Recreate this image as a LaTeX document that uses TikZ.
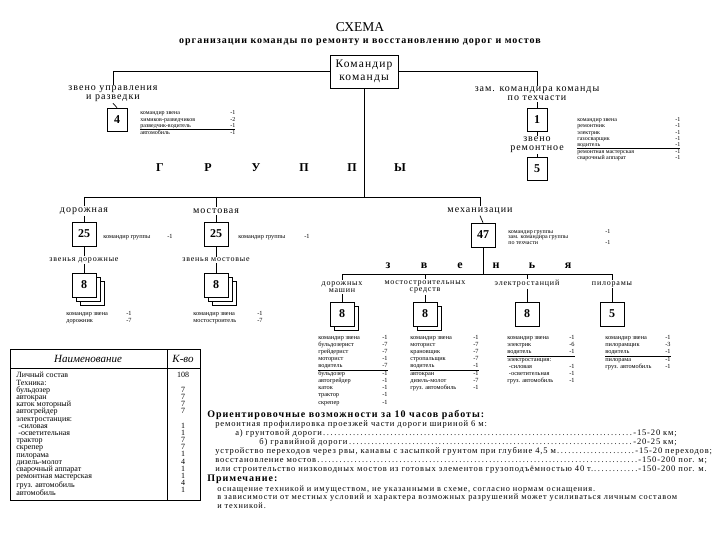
\documentclass[tikz,border=0pt]{standalone}
\usepackage{fontspec}
\setmainfont{Liberation Serif}
\newfontfamily\airy{Liberation Serif}[LetterSpace=10]
\usetikzlibrary{positioning}
\setlength{\arrayrulewidth}{0.8pt}

\tikzset{
  numbox/.style={draw, line width=0.7pt, minimum width=24pt, minimum height=24pt,
    inner sep=0pt, font=\fontsize{12}{12}\selectfont\bfseries},
  smallbox/.style={numbox, minimum width=20pt, minimum height=23pt},
  branchlbl/.style={align=center, inner sep=1pt, font=\airy\fontsize{10}{9}\selectfont},
  linklbl/.style={align=center, inner sep=1pt, font=\airy\fontsize{8}{7.5}\selectfont},
  roster/.style={anchor=north west, inner sep=0pt, font=\fontsize{6.3}{7.1}\selectfont},
  bigletter/.style={font=\fontsize{12}{12}\selectfont\bfseries},
}

\begin{document}
\begin{tikzpicture}[x=1pt, y=-1pt, line width=0.7pt]
   \useasboundingbox (0,0) rectangle (720,540);

   % heading
   \node (title) at (360,27) {\fontsize{13.5}{13}\selectfont СХЕМА};
   \node (subtitle) at (360,42) {\airy\fontsize{10}{11}\selectfont\bfseries организации команды по ремонту и восстановлению дорог и мостов};
   \node [draw, minimum width=68pt, minimum height=33pt, align=center,
          font=\airy\fontsize{11.5}{13}\selectfont] (cmd) at (364,71.5) {Командир\\команды};

   % control and repair links
   \node [branchlbl] (mgmt) at (113,94) {звено управления\\и разведки};
   \node [branchlbl] (tech) at (537,94) {зам. командира команды\\по техчасти};
   \draw (cmd.west) -| (mgmt.north);
   \draw (cmd.east) -| (tech.north);

   \node [smallbox] (n4) at (117,119.5) {4};
   \draw (mgmt.south) -- (n4.north);
   \node [roster, font=\fontsize{6}{6.3}\selectfont] (r4) at (140,110) {\begin{tabular}{@{}p{90pt}@{}l@{}}
      командир звена & -1\\ химиков-разведчиков & -2\\ разведчик-водитель & -1\\ \hline автомобиль & -1\end{tabular}};

   \node [smallbox] (n1) at (537,119.5) {1};
   \node [branchlbl] (repair) at (537,145) {звено\\ремонтное};
   \node [smallbox] (n5) at (537,168.5) {5};
   \draw (tech.south) -- (n1.north);
   \draw (n1.south) -- (repair.north);
   \draw (repair.south) -- (n5.north);
   \node [roster, font=\fontsize{6}{6.2}\selectfont] (r1) at (577,117) {\begin{tabular}{@{}p{98pt}@{}l@{}}
      командир звена & -1\\ ремонтник & -1\\ электрик & -1\\ газосварщик & -1\\ водитель & -1\\ \hline
      ремонтная мастерская & -1\\ сварочный аппарат & -1\end{tabular}};

   % groups
   \foreach \ch [count=\i] in {Г,Р,У,П,П,Ы}
      \node [bigletter] (grp\i) at (112+48*\i,168) {\ch};
   \coordinate (barL) at (84,197);
   \coordinate (barR) at (480,197);
   \draw (cmd.south) -- (cmd.south |- barL);
   \draw (barL) -- (barR);
   \node [branchlbl] (road) at (84,211) {дорожная};
   \node [branchlbl] (bridge) at (216,211) {мостовая};
   \node [branchlbl] (mech) at (480,211) {механизации};
   \draw (barL) -- (road.north);
   \draw (bridge.north |- barL) -- (bridge.north);
   \draw (barR) -- (mech.north);

   % road group
   \node [numbox] (road25) at (84,234) {25};
   \node [roster, anchor=west] (roadcmd) at (103,237) {\makebox[64pt][l]{командир группы}-1};
   \node [linklbl] (roadlinks) at (84,260) {звенья дорожные};
   \foreach \d in {8,4}
      \node [numbox, fill=white] at (84+\d,285+\d) {};
   \node [numbox, fill=white] (road8) at (84,285) {8};
   \draw (road.south) -- (road25.north);
   \draw (road25.south) -- (roadlinks.north);
   \draw (roadlinks.south) -- (road8.north);
   \node [roster] (rroad) at (66,310) {\begin{tabular}{@{}p{60pt}@{}l@{}}
      командир звена & -1\\ дорожник & -7\end{tabular}};

   % bridge group
   \node [numbox] (bridge25) at (216,234) {25};
   \node [roster, anchor=west] (bridgecmd) at (238,237) {\makebox[66pt][l]{командир группы}-1};
   \node [linklbl] (bridgelinks) at (216,260) {звенья мостовые};
   \foreach \d in {8,4}
      \node [numbox, fill=white] at (216+\d,285+\d) {};
   \node [numbox, fill=white] (bridge8) at (216,285) {8};
   \draw (bridge.south) -- (bridge25.north);
   \draw (bridge25.south) -- (bridgelinks.north);
   \draw (bridgelinks.south) -- (bridge8.north);
   \node [roster] (rbridge) at (193,310) {\begin{tabular}{@{}p{64pt}@{}l@{}}
      командир звена & -1\\ мостостроитель & -7\end{tabular}};

   % mechanisation group
   \node [numbox] (mech47) at (483,235) {47};
   \draw (mech.south) -- (mech47.north);
   \node [roster, font=\fontsize{6}{5.6}\selectfont] (r47) at (508,229) {\begin{tabular}{@{}p{97pt}@{}l@{}}
      командир группы & -1\\ зам. командира группы & \\ по техчасти & -1\end{tabular}};
   \foreach \ch [count=\i] in {з,в,е,н,ь,я}
      \node [bigletter] (lnk\i) at (352+36*\i,266) {\ch};
   \coordinate (linkbar) at (483,274);
   \coordinate (linkL) at (342,274);
   \coordinate (linkR) at (612,274);
   \draw (mech47.south) -- (linkbar);
   \draw (linkL) -- (linkR);

   \node [linklbl] (mach) at (342,287) {дорожных\\машин};
   \node [linklbl] (tools) at (425,287) {мостостроительных\\средств};
   \node [linklbl] (power) at (527,284) {электростанций};
   \node [linklbl] (saw) at (612,284) {пилорамы};
   \draw (linkL) -- (mach.north);
   \draw (tools.north |- linkL) -- (tools.north);
   \draw (power.north |- linkL) -- (power.north);
   \draw (linkR) -- (saw.north);

   \node [numbox, fill=white] at (346,318) {};
   \node [numbox, fill=white] (mach8) at (342,314) {8};
   \node [numbox, fill=white] at (429,318) {};
   \node [numbox, fill=white] (tools8) at (425,314) {8};
   \node [numbox] (power8) at (527,314) {8};
   \node [numbox] (saw5) at (612,314) {5};
   \draw (mach.south) -- (mach8.north);
   \draw (tools.south) -- (tools8.north);
   \draw (power.south) -- (power8.north);
   \draw (saw.south) -- (saw5.north);

   \node [roster] (rmach) at (318,334) {\begin{tabular}{@{}p{64pt}@{}l@{}}
      командир звена & -1\\ бульдозерист & -7\\ грейдерист & -7\\ моторист & -1\\ водитель & -7\\ \hline
      бульдозер & -1\\ автогрейдер & -1\\ каток & -1\\ трактор & -1\\ скрепер & -1\end{tabular}};
   \node [roster] (rtools) at (410,334) {\begin{tabular}{@{}p{63pt}@{}l@{}}
      командир звена & -1\\ моторист & -7\\ крановщик & -7\\ стропальщик & -7\\ водитель & -1\\ \hline
      автокран & -1\\ дизель-молот & -7\\ груз. автомобиль & -1\end{tabular}};
   \node [roster] (rpower) at (507,334) {\begin{tabular}{@{}p{62pt}@{}l@{}}
      командир звена & -1\\ электрик & -6\\ водитель & -1\\ \hline
      электростанция: & \\ \ -силовая & -1\\ \ -осветительная & -1\\ груз. автомобиль & -1\end{tabular}};
   \node [roster] (rsaw) at (605,334) {\begin{tabular}{@{}p{60pt}@{}l@{}}
      командир звена & -1\\ пилорамщик & -3\\ водитель & -1\\ \hline
      пилорама & -1\\ груз. автомобиль & -1\end{tabular}};

   % equipment table
   \draw (10,349) rectangle (200,500);
   \draw (10,368) -- (200,368);
   \draw (167,349) -- (167,500);
   \node [font=\itshape\fontsize{11}{11}\selectfont] (hname) at (88,359) {Наименование};
   \node [font=\itshape\fontsize{11}{11}\selectfont] (hqty) at (183,359) {К-во};
   \node [anchor=north west, align=left, inner sep=0pt, font=\fontsize{8}{7.2}\selectfont] (names) at (16,372) {Личный состав\\ Техника:\\ бульдозер\\ автокран\\ каток моторный\\ автогрейдер\\ электростанция:\\ \ -силовая\\ \ -осветительная\\ трактор\\ скрепер\\ пилорама\\ дизель-молот\\ сварочный аппарат\\ ремонтная мастерская\\ груз. автомобиль\\ автомобиль};
   \node [anchor=north, align=center, inner sep=0pt, font=\fontsize{8}{7.2}\selectfont] (qty) at (183,372) {108\\ \mbox{}\\ 7\\ 7\\ 7\\ 7\\ \mbox{}\\ 1\\ 1\\ 7\\ 7\\ 1\\ 4\\ 1\\ 1\\ 4\\ 1};

   % capabilities and note
   \node [anchor=north west, align=left, inner sep=0pt, font=\airy\fontsize{8.5}{9}\selectfont] (works) at (207,410) {%
      {\bfseries\fontsize{10}{9}\selectfont Ориентировочные возможности за 10 часов работы:}\\
      \hspace*{8pt}ремонтная профилировка проезжей части дороги шириной 6 м:\\
      \hspace*{28pt}\makebox[398pt][l]{а) грунтовой дороги\dotfill}-15-20 км;\\
      \hspace*{52pt}\makebox[374pt][l]{б) гравийной дороги\dotfill}-20-25 км;\\
      \hspace*{8pt}\makebox[420pt][l]{устройство переходов через рвы, канавы с засыпкой грунтом при глубине 4,5 м\dotfill}-15-20 переходов;\\
      \hspace*{8pt}\makebox[423pt][l]{восстановление мостов\dotfill}-150-200 пог. м;\\
      \hspace*{8pt}\makebox[423pt][l]{или строительство низководных мостов из готовых элементов грузоподъёмностью 40 т.\dotfill}-150-200 пог. м.};
   \node [anchor=north west, align=left, inner sep=0pt, font=\airy\fontsize{8.3}{7}\selectfont] (note) at (207,475) {%
      {\bfseries\fontsize{10}{9}\selectfont Примечание:}\\[0.5pt]
      \hspace*{10pt}оснащение техникой и имуществом, не указанными в схеме, согласно нормам оснащения.\\
      \hspace*{10pt}в зависимости от местных условий и характера возможных разрушений может усиливаться личным составом\\
      \hspace*{10pt}и техникой.};
\end{tikzpicture}
\end{document}
